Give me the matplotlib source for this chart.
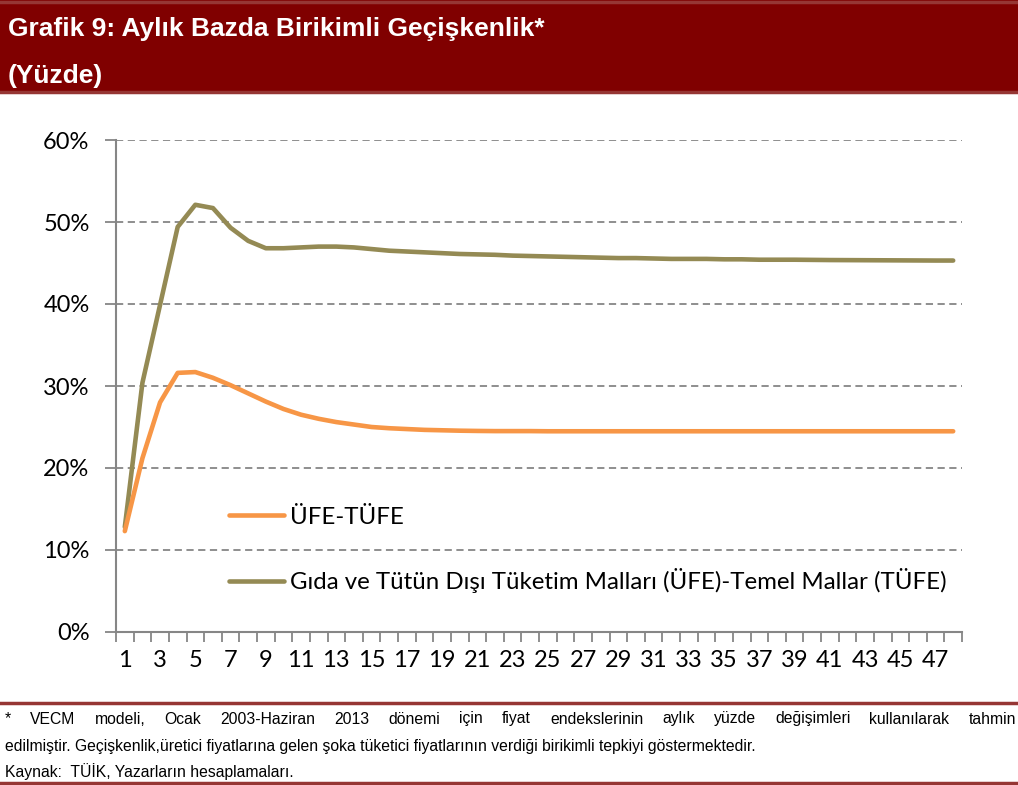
import matplotlib
matplotlib.use('Agg')
import matplotlib.pyplot as plt
from matplotlib.patches import Rectangle
from matplotlib.lines import Line2D
import numpy as np

# data, months 1..48
months = list(range(1, 49))
ufe_tufe = [12.3, 21.2, 28.0, 31.6, 31.7, 31.0, 30.1, 29.1, 28.1, 27.2,
            26.5, 26.0, 25.6, 25.3, 25.0, 24.85, 24.75, 24.65, 24.6, 24.55,
            24.52, 24.5, 24.5, 24.5, 24.48, 24.48, 24.48, 24.48, 24.48, 24.48,
            24.48, 24.48, 24.48, 24.48, 24.48, 24.48, 24.48, 24.48, 24.48, 24.48,
            24.48, 24.48, 24.48, 24.48, 24.48, 24.48, 24.48, 24.48]
gida = [12.8, 30.4, 39.9, 49.4, 52.1, 51.7, 49.3, 47.7, 46.8, 46.8,
        46.9, 47.0, 47.0, 46.9, 46.7, 46.5, 46.4, 46.3, 46.2, 46.1,
        46.05, 46.0, 45.9, 45.85, 45.8, 45.75, 45.7, 45.65, 45.6, 45.6,
        45.55, 45.5, 45.5, 45.5, 45.45, 45.45, 45.4, 45.4, 45.4, 45.38,
        45.36, 45.35, 45.34, 45.33, 45.32, 45.31, 45.3, 45.3]
yticks = [0, 10, 20, 30, 40, 50, 60]
xlabels = [str(m) for m in range(1, 48, 2)]

title = 'Grafik 9: Aylık Bazda Birikimli Geçişkenlik*'
subtitle = '(Yüzde)'
label_ufe = 'ÜFE-TÜFE'
label_gida = 'Gıda ve Tütün Dışı Tüketim Malları (ÜFE)-Temel Mallar (TÜFE)'
note1 = ('* VECM modeli, Ocak 2003-Haziran 2013 dönemi için fiyat endekslerinin '
         'aylık yüzde değişimleri kullanılarak tahmin')
note2 = ('edilmiştir. Geçişkenlik,üretici fiyatlarına gelen şoka tüketici '
         'fiyatlarının verdiği birikimli tepkiyi göstermektedir.')
note3 = 'Kaynak:  TÜİK, Yazarların hesaplamaları.'

W, H = 1018, 785
fig = plt.figure(figsize=(W / 100, H / 100), dpi=100)
fig.patch.set_facecolor('white')
font = 'Lato'

# title bar
fig.add_artist(Rectangle((0, 1 - 93 / H), 1, 93 / H, transform=fig.transFigure,
                         facecolor='#800000', edgecolor='none'))
for yy in [1 - 1.5 / H, 1 - 92 / H]:
    fig.add_artist(Line2D([0, 1], [yy, yy], transform=fig.transFigure,
                          color='#963634', lw=2.5))
fig.text(8 / W, 1 - 29 / H, title, color='white', fontsize=19, fontweight='bold',
         family='Liberation Sans', va='center', ha='left')
fig.text(8 / W, 1 - 76 / H, subtitle, color='white', fontsize=19, fontweight='bold',
         family='Liberation Sans', va='center', ha='left')

# plot area
ax = fig.add_axes([116 / W, 1 - 632 / H, (962 - 116) / W, (632 - 140) / H])
ax.plot(months, gida, color='#948A54', lw=3.3, solid_capstyle='round', label=label_gida)
ax.plot(months, ufe_tufe, color='#F79646', lw=3.3, solid_capstyle='round', label=label_ufe)

ax.set_xlim(0.5, 48.5)
ax.set_ylim(0, 60)
ax.set_yticks(yticks)
ax.set_yticklabels(['%d%%' % v for v in yticks])
ax.set_xticks(range(1, 48, 2))
ax.set_xticklabels(xlabels)
ax.set_xticks(np.arange(0.5, 49, 1), minor=True)
ax.tick_params(axis='x', which='major', length=0, pad=13)
ax.tick_params(axis='x', which='minor', length=7, color='#868686', width=1.3, direction='out')
ax.tick_params(axis='y', length=8, color='#868686', width=1.3, pad=11)
for lab in ax.get_xticklabels() + ax.get_yticklabels():
    lab.set_fontsize(17)
    lab.set_family(font)
    lab.set_color('black')

for v in yticks[1:]:
    ax.axhline(v, color='#868686', lw=1.3, ls=(0, (4, 2.5)), zorder=0)
for side in ['top', 'right']:
    ax.spines[side].set_visible(False)
for side in ['left', 'bottom']:
    ax.spines[side].set_color('#868686')
    ax.spines[side].set_linewidth(1.5)

handles, labels = ax.get_legend_handles_labels()
leg = ax.legend(handles[::-1], labels[::-1], loc='lower left',
                bbox_to_anchor=(91 / 846, 17 / 492), frameon=False,
                prop={'family': font, 'size': 17.3},
                handlelength=2.3, handletextpad=0.25, labelspacing=1.7)

# footer
for yy in [1 - 703 / H, 1 - 783 / H]:
    fig.add_artist(Line2D([0, 1], [yy, yy], transform=fig.transFigure,
                          color='#963634', lw=2.5))

fs = 11.3
# justified first line
fig.canvas.draw()
r = fig.canvas.get_renderer()
words = note1.split(' ')
tmp = [fig.text(0, 0, w, fontsize=fs, family='Liberation Sans') for w in words]
widths = [t.get_window_extent(r).width for t in tmp]
for t in tmp:
    t.remove()
x0, x1 = 5, 1016
gap = (x1 - x0 - sum(widths)) / (len(words) - 1)
x = x0
for w, wd in zip(words, widths):
    fig.text(x / W, 1 - 719 / H, w, fontsize=fs, family='Liberation Sans',
             va='center', ha='left')
    x += wd + gap
fig.text(5 / W, 1 - 746 / H, note2, fontsize=fs, family='Liberation Sans',
         va='center', ha='left')
fig.text(5 / W, 1 - 772 / H, note3, fontsize=fs, family='Liberation Sans',
         va='center', ha='left')

fig.savefig('out.png', dpi=100)
